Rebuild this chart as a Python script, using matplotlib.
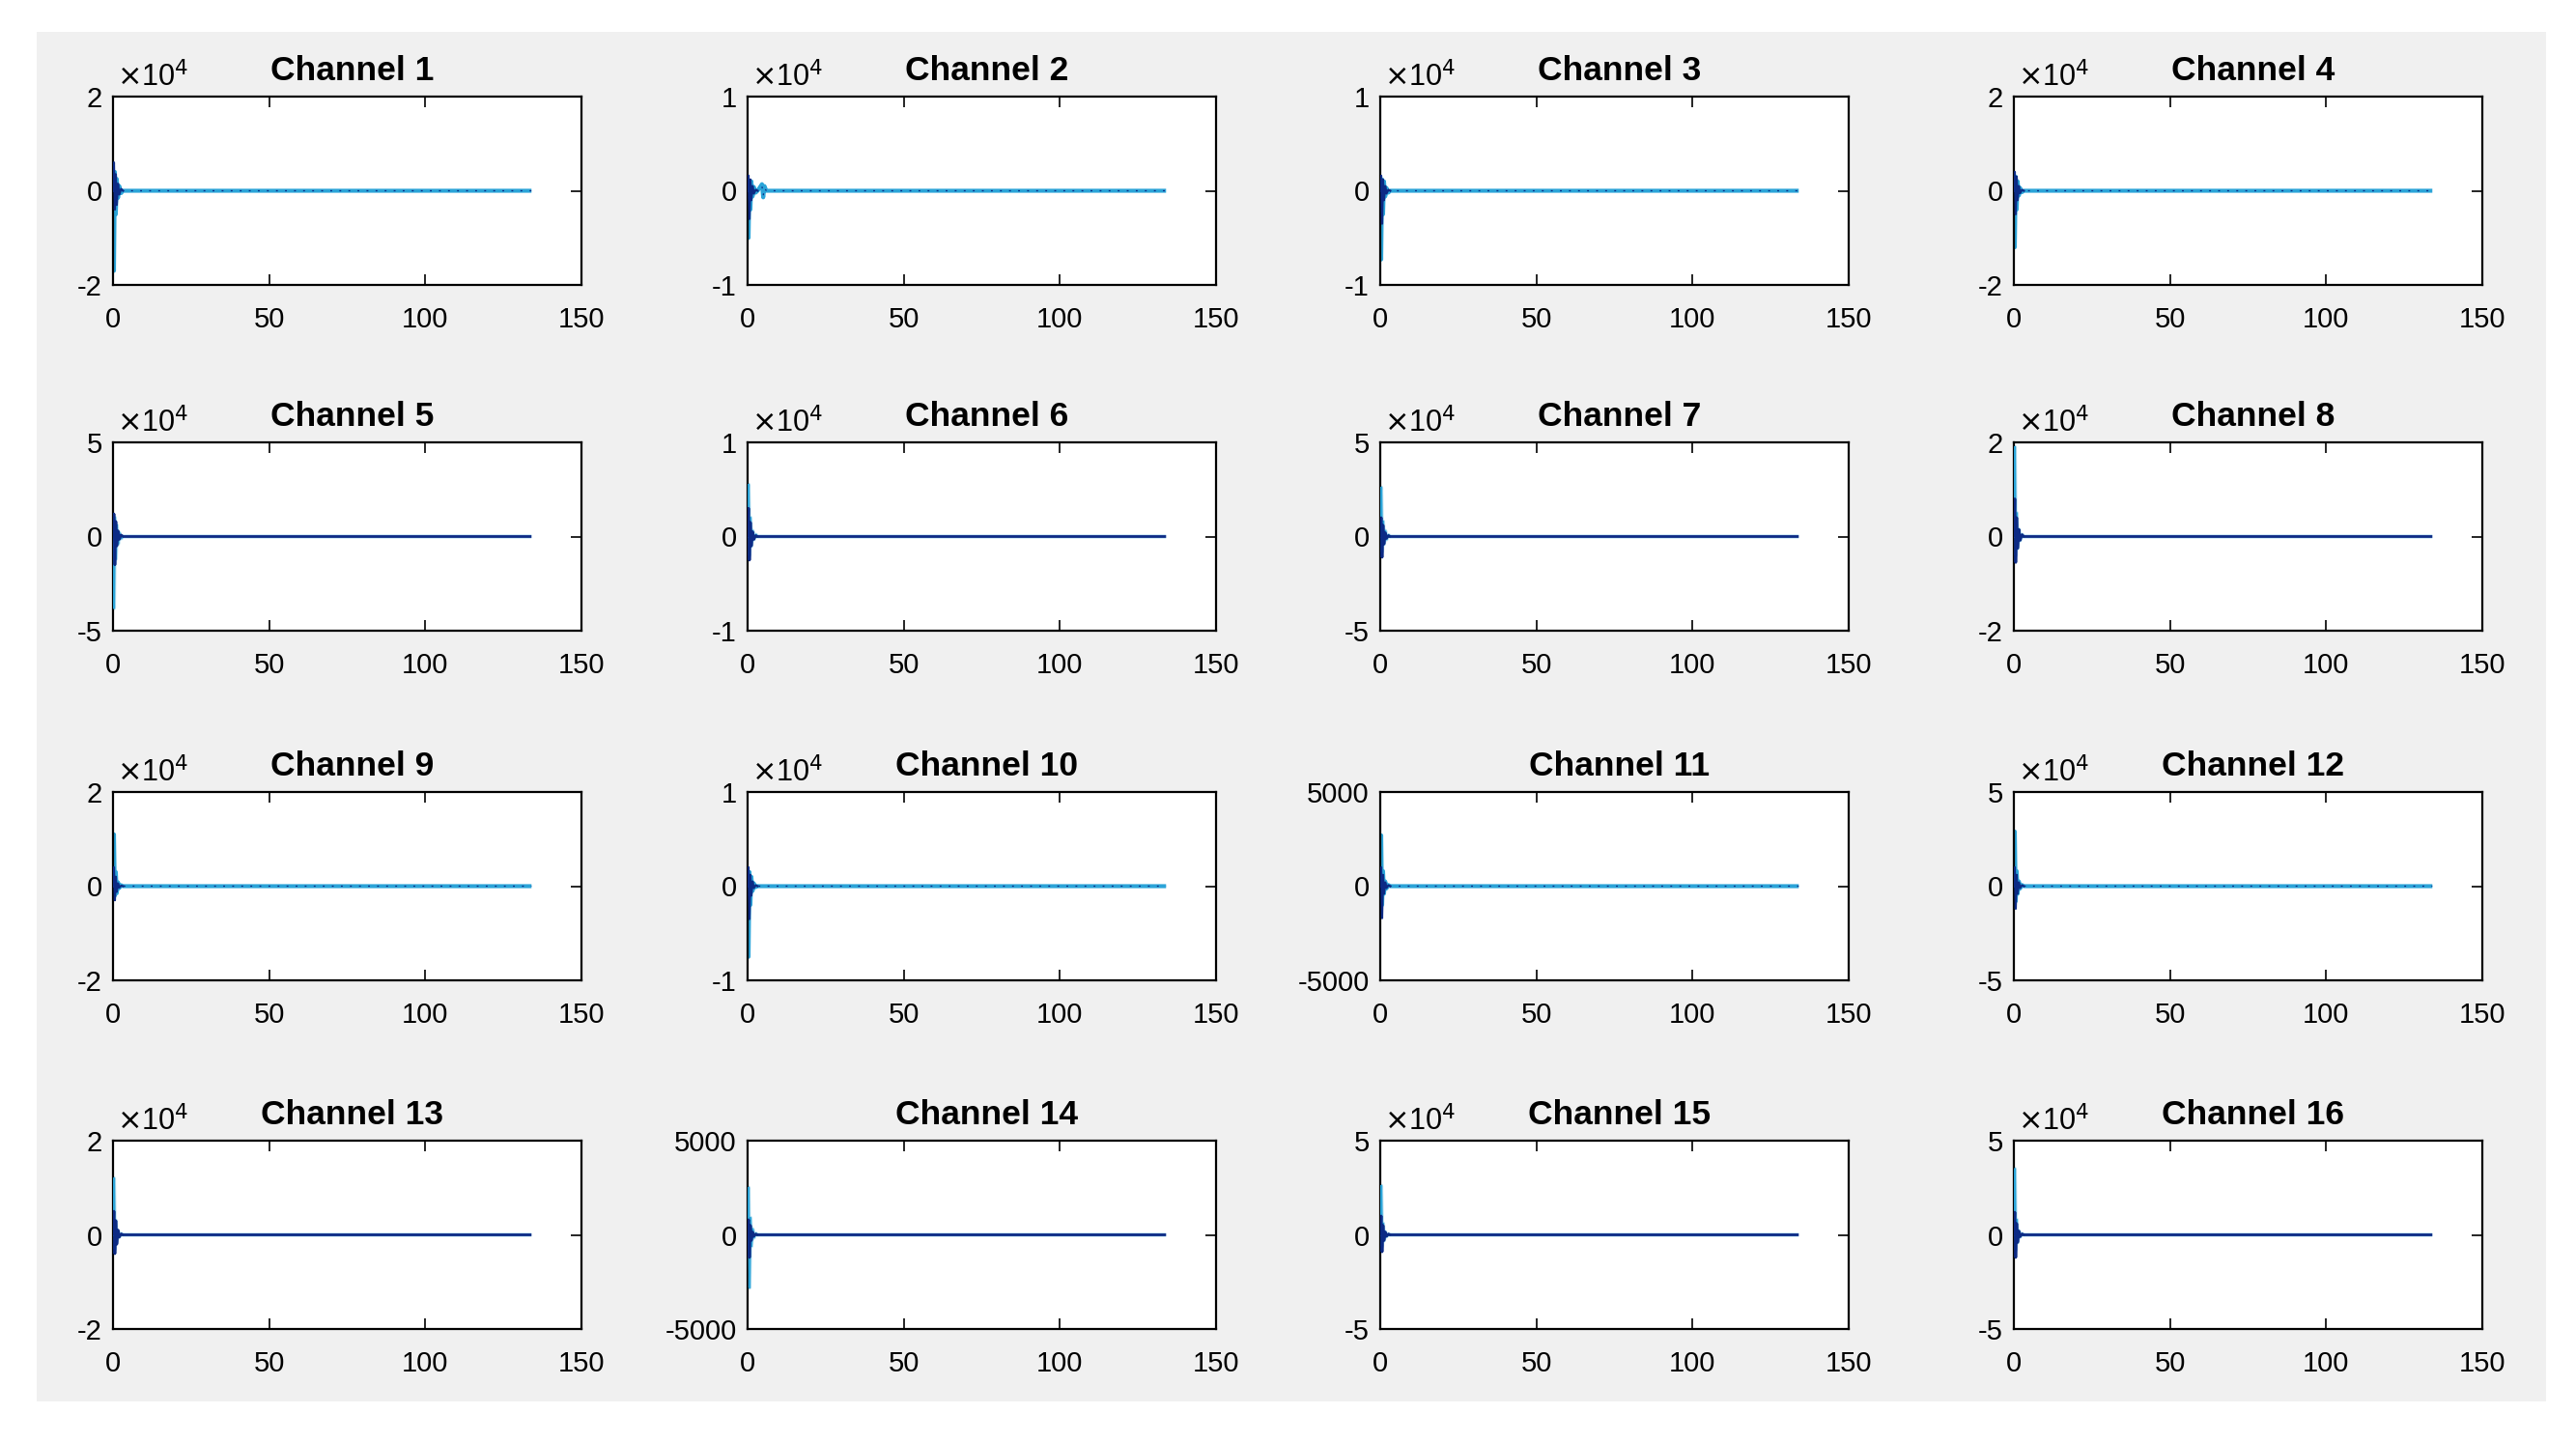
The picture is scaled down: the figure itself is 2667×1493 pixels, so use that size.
import matplotlib
matplotlib.use("Agg")
import matplotlib.pyplot as plt
from matplotlib.patches import Rectangle

plt.rcParams['font.family'] = ['Liberation Sans', 'DejaVu Sans']

# time axis (s), shared by every channel
t = [0, 0.3, 0.6, 0.9, 1.2, 1.6, 2.0, 2.6, 3.2, 4.6, 5.0, 5.4, 6.0, 134]

# axis limit per channel, in the units of the tick labels
ylims = [2, 1, 1, 2, 5, 1, 5, 2, 2, 1, 5000, 5, 2, 5000, 5, 5]

# light trace (values in tick units, x1e4 unless limit is 5000)
light = [
    [0, -1.7, 0.4, -0.5, 0.25, -0.15, 0.1, -0.05, 0, 0, 0, 0, 0, 0],
    [0, -0.5, 0.1, -0.2, 0.1, -0.06, 0.04, -0.02, 0, 0.07, -0.07, 0.05, 0, 0],
    [0, -0.73, 0.12, -0.25, 0.1, -0.06, 0.03, -0.02, 0, 0, 0, 0, 0, 0],
    [0, -1.2, 0.3, -0.4, 0.2, -0.1, 0.06, -0.03, 0, 0, 0, 0, 0, 0],
    [0, -3.8, 1.0, -1.2, 0.6, -0.4, 0.2, -0.1, 0, 0, 0, 0, 0, 0],
    [0, 0.55, -0.2, 0.2, -0.1, 0.06, -0.03, 0.02, 0, 0, 0, 0, 0, 0],
    [0, 2.6, -0.8, 0.8, -0.4, 0.3, -0.15, 0.08, 0, 0, 0, 0, 0, 0],
    [0, 1.9, -0.4, 0.5, -0.25, 0.15, -0.08, 0.04, 0, 0, 0, 0, 0, 0],
    [0, 1.1, -0.2, 0.3, -0.15, 0.08, -0.04, 0.02, 0, 0, 0, 0, 0, 0],
    [0, -0.75, 0.15, -0.2, 0.1, -0.05, 0.03, -0.01, 0, 0, 0, 0, 0, 0],
    [0, 2700, -1000, 800, -400, 250, -120, 60, 0, 0, 0, 0, 0, 0],
    [0, 2.9, -0.8, 0.8, -0.4, 0.25, -0.12, 0.06, 0, 0, 0, 0, 0, 0],
    [0, 1.2, -0.3, 0.3, -0.15, 0.08, -0.04, 0.02, 0, 0, 0, 0, 0, 0],
    [0, 2500, -2800, 900, -600, 300, -150, 70, 0, 0, 0, 0, 0, 0],
    [0, 2.6, -0.6, 0.6, -0.3, 0.15, -0.08, 0.04, 0, 0, 0, 0, 0, 0],
    [0, 3.5, -0.8, 0.8, -0.4, 0.2, -0.1, 0.05, 0, 0, 0, 0, 0, 0],
]

# dark trace
dark = [
    [0, 0.6, -0.4, 0.35, -0.3, 0.15, -0.08, 0.04, 0, 0, 0, 0, 0, 0],
    [0, 0.16, -0.3, 0.12, -0.1, 0.05, -0.03, 0.01, 0, 0.05, -0.05, 0.03, 0, 0],
    [0, 0.16, -0.35, 0.12, -0.1, 0.05, -0.03, 0.01, 0, 0, 0, 0, 0, 0],
    [0, 0.4, -0.5, 0.3, -0.2, 0.1, -0.05, 0.02, 0, 0, 0, 0, 0, 0],
    [0, 1.2, -1.5, 0.8, -0.5, 0.3, -0.15, 0.08, 0, 0, 0, 0, 0, 0],
    [0, 0.3, -0.25, 0.15, -0.1, 0.05, -0.03, 0.01, 0, 0, 0, 0, 0, 0],
    [0, 1.0, -1.1, 0.6, -0.4, 0.2, -0.1, 0.05, 0, 0, 0, 0, 0, 0],
    [0, 0.8, -0.55, 0.4, -0.25, 0.15, -0.08, 0.04, 0, 0, 0, 0, 0, 0],
    [0, 0.4, -0.3, 0.2, -0.12, 0.06, -0.03, 0.01, 0, 0, 0, 0, 0, 0],
    [0, 0.2, -0.35, 0.12, -0.1, 0.05, -0.02, 0.01, 0, 0, 0, 0, 0, 0],
    [0, 1000, -1700, 600, -400, 200, -100, 50, 0, 0, 0, 0, 0, 0],
    [0, 1.0, -1.2, 0.6, -0.4, 0.2, -0.1, 0.05, 0, 0, 0, 0, 0, 0],
    [0, 0.5, -0.4, 0.3, -0.2, 0.1, -0.05, 0.02, 0, 0, 0, 0, 0, 0],
    [0, 800, -1200, 500, -300, 150, -80, 40, 0, 0, 0, 0, 0, 0],
    [0, 1.0, -0.9, 0.5, -0.3, 0.15, -0.08, 0.04, 0, 0, 0, 0, 0, 0],
    [0, 1.2, -1.2, 0.6, -0.4, 0.2, -0.1, 0.05, 0, 0, 0, 0, 0, 0],
]

xticks = [0, 50, 100, 150]
light_col = '#2ba4d8'
dark_col = '#0c2a85'

W, H = 2667, 1493
fig = plt.figure(figsize=(W / 100, H / 100), dpi=100)
fig.patch.set_facecolor('white')
# MATLAB-like grey figure area
fig.add_artist(Rectangle((38 / W, 1 - 1451 / H), (2636 - 38) / W, (1451 - 33) / H,
                         transform=fig.transFigure, facecolor='#f0f0f0',
                         edgecolor='none', zorder=0))

col_left = [117, 774, 1429, 2085]
row_bottom = [295, 653, 1015, 1376]
ax_w, ax_h = 485, 195

for i in range(16):
    r, c = divmod(i, 4)
    ax = fig.add_axes([col_left[c] / W, 1 - row_bottom[r] / H, ax_w / W, ax_h / H])
    ax.set_facecolor('white')
    lim = ylims[i]

    if r % 2 == 0:
        # light trace dominates, dark speckle on top
        ax.plot(t, light[i], color=light_col, lw=3.0, zorder=2, solid_capstyle='butt')
        ax.plot(t[:9], dark[i][:9], color=dark_col, lw=1.6, zorder=3)
        ax.plot(t, dark[i], color=dark_col, lw=0.9, ls=(0, (1.5, 6)), zorder=3)
    else:
        ax.plot(t, light[i], color=light_col, lw=3.0, alpha=0.35, zorder=2,
                solid_capstyle='butt')
        ax.plot(t[:9], light[i][:9], color=light_col, lw=1.6, zorder=3)
        ax.plot(t, dark[i], color=dark_col, lw=2.0, zorder=3, solid_capstyle='butt')

    ax.set_xlim(0, 150)
    ax.set_ylim(-lim, lim)
    ax.set_xticks(xticks)
    ax.set_xticklabels([str(v) for v in xticks])
    ax.set_yticks([-lim, 0, lim])
    ax.set_yticklabels([str(-lim), '0', str(lim)])
    ax.tick_params(direction='in', length=8, width=1.2, top=True, right=True,
                   labelsize=21, colors='black')
    ax.tick_params(axis='x', pad=16)
    ax.tick_params(axis='y', pad=8)
    for sp in ax.spines.values():
        sp.set_linewidth(1.6)
    ax.set_title(f'Channel {i + 1}', fontsize=25.5, fontweight='bold', pad=12, x=0.51)
    if lim != 5000:
        ax.text(0.008, 1.02, r'$\times$10$^4$', transform=ax.transAxes,
                fontsize=22, ha='left', va='bottom')

fig.savefig('out.png', dpi=100, facecolor=fig.get_facecolor())
